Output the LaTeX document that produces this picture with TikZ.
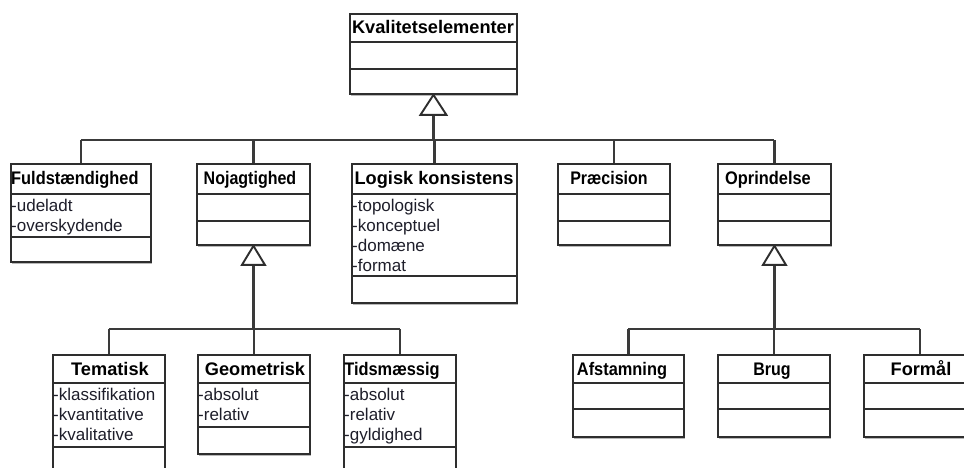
\documentclass[tikz,border=0pt]{standalone}
\usepackage{fontspec}
\setmainfont{Liberation Sans}
\usetikzlibrary{calc,shadows}
\definecolor{edge}{HTML}{2E2E2E}
\definecolor{wire}{HTML}{3A3A3A}
\definecolor{attr}{HTML}{1E1E2A}
\tikzset{
  x=1pt, y=-1pt,
  cls/.style={draw=edge, line width=1.9pt, fill=white, inner sep=0pt,
    anchor=north west,
    drop shadow={shadow xshift=1.2pt, shadow yshift=-1.8pt, fill=black!28, opacity=1}},
  sep/.style={draw=edge, line width=1.9pt},
  conn/.style={draw=wire, line width=2.3pt},
  tri/.style={draw=edge, line width=1.9pt, fill=white, line join=miter},
  title/.style={font=\fontsize{18.2}{20}\selectfont\bfseries, text=black,
    inner sep=0pt, anchor=base},
  attrs/.style={font=\fontsize{17}{20}\selectfont, text=attr, align=left,
    inner sep=0pt, anchor=north west},
}
% condensed class name
\newcommand{\narrow}[2]{\scalebox{#1}[1]{#2}}
\newcommand{\clsbox}[7]{% name, x1, y1, x2, y2, sep1, sep2
  \node[cls, minimum width={#4-#2}, minimum height={#5-#3}] (#1) at (#2,#3) {};
  \draw[sep] (#2,#6) -- (#4,#6);
  \draw[sep] (#2,#7) -- (#4,#7);
}
\begin{document}
\begin{tikzpicture}
\useasboundingbox (0,0) rectangle (964,468);
\clip (0,0) rectangle (964,468);

% bus lines of the generalisation trees
\coordinate (bus1) at (0,140);
\coordinate (bus2) at (0,329);

% ---------- classes ----------
\clsbox{k}{349}{13}{516}{93}{42}{69}
\node[title] (kt) at (433,34) {Kvalitetselementer};

\clsbox{f}{10}{163}{150}{261}{194}{237}
\node[title, anchor=base west] (ft) at (11,185) {\narrow{0.9}{Fuldstændighed}};
\node[attrs] (fa) at (11,199) {-udeladt\\-overskydende};

\clsbox{n}{196}{163}{309}{244}{194}{221}
\node[title] (nt) at (250,185) {\narrow{0.88}{Nojagtighed}};

\clsbox{l}{351}{163}{516}{302}{194}{276}
\node[title] (lt) at (434,185) {Logisk konsistens};
\node[attrs] (la) at (352,199) {-topologisk\\-konceptuel\\-domæne\\-format};

\clsbox{p}{557}{163}{669}{244}{194}{221}
\node[title] (pt) at (609,185) {\narrow{0.88}{Præcision}};

\clsbox{o}{717}{163}{830}{244}{194}{221}
\node[title] (ot) at (768,185) {\narrow{0.9}{Oprindelse}};

\clsbox{t}{52}{354}{164}{500}{383}{447}
\node[title] (tt) at (110,375) {Tematisk};
\node[attrs] (ta) at (53,388) {-klassifikation\\-kvantitative\\-kvalitative};

\clsbox{g}{197}{354}{309}{453}{383}{427}
\node[title] (gt) at (255,375) {Geometrisk};
\node[attrs] (ga) at (198,388) {-absolut\\-relativ};

\clsbox{d}{343}{354}{455}{500}{383}{447}
\node[title] (dt) at (392,375) {\narrow{0.9}{Tidsmæssig}};
\node[attrs] (da) at (344,388) {-absolut\\-relativ\\-gyldighed};

\clsbox{a}{572}{354}{683}{436}{383}{409}
\node[title] (at) at (622,375) {\narrow{0.9}{Afstamning}};

\clsbox{b}{717}{354}{829}{436}{383}{409}
\node[title] (bt) at (772,375) {\narrow{0.88}{Brug}};

\clsbox{m}{863}{354}{975}{436}{383}{409}
\node[title] (mt) at (921,375) {Formål};

% ---------- generalisation: Kvalitetselementer ----------
\coordinate (kb) at ($(k.south)+(0,20)$);
\draw[conn] (kb) -- (kb |- bus1);
\draw[conn] (f.north |- bus1) -- (o.north |- bus1);
\foreach \c in {f,n,l,p,o} \draw[conn] (\c.north) -- (\c.north |- bus1);
\draw[tri] (k.south) -- ++(-13,20) -- ++(26,0) -- cycle;

% ---------- generalisation: Nojagtighed ----------
\coordinate (nb) at ($(n.south)+(0,19)$);
\draw[conn] (nb) -- (nb |- bus2);
\draw[conn] (t.north |- bus2) -- (d.north |- bus2);
\foreach \c in {t,g,d} \draw[conn] (\c.north) -- (\c.north |- bus2);
\draw[tri] (n.south) -- ++(-11.5,19) -- ++(23,0) -- cycle;

% ---------- generalisation: Oprindelse ----------
\coordinate (ob) at ($(o.south)+(0,19)$);
\draw[conn] (ob) -- (ob |- bus2);
\draw[conn] (a.north |- bus2) -- (m.north |- bus2);
\foreach \c in {a,b,m} \draw[conn] (\c.north) -- (\c.north |- bus2);
\draw[tri] (o.south) -- ++(-11.5,19) -- ++(23,0) -- cycle;
\end{tikzpicture}
\end{document}
